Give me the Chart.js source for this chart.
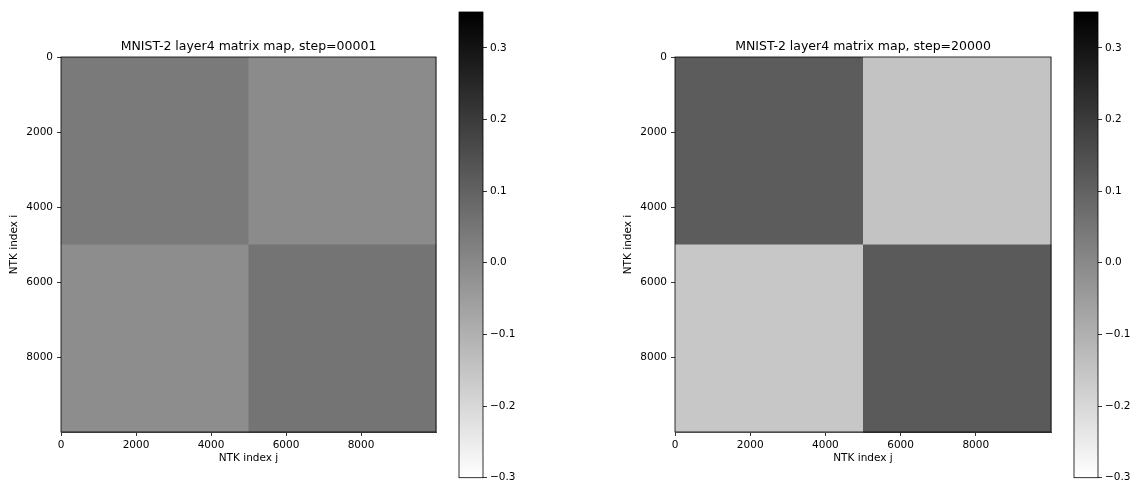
<!DOCTYPE html>
<html><head><meta charset="utf-8">
<script src="https://cdn.jsdelivr.net/npm/chart.js@4.4.0/dist/chart.umd.min.js"></script>
<style>
html,body{margin:0;padding:0;background:#fff;}
body{width:1133px;height:487px;position:relative;overflow:hidden;}
canvas{position:absolute;top:0;}
</style></head><body>
<canvas id="h1" width="497" height="487" style="left:0px;width:497px;height:487px"></canvas>
<canvas id="c1" width="110" height="487" style="left:440px;width:110px;height:487px"></canvas>
<canvas id="h2" width="498" height="487" style="left:614px;width:498px;height:487px"></canvas>
<canvas id="c2" width="78" height="487" style="left:1055px;width:78px;height:487px"></canvas>
<script>
// ---- data ----
const titles = ['MNIST-2 layer4 matrix map, step=00001', 'MNIST-2 layer4 matrix map, step=20000'];
const blockEdges = [0, 5000, 10000];          // NTK index boundaries of the two class blocks
const step00001 = [[0.040, -0.005], [-0.010, 0.055]]; // rows i (top,bottom), cols j (left,right)
const step20000 = [[0.115, -0.147], [-0.157, 0.120]];
const axisTicks = [0, 2000, 4000, 6000, 8000];
const cbTicks = [-0.3, -0.2, -0.1, 0.0, 0.1, 0.2, 0.3];
const vmin = -0.3, vmax = 0.35;
const xLabel = 'NTK index j', yLabel = 'NTK index i';

// ---- helpers ----
Chart.defaults.font.family = "'DejaVu Sans', sans-serif";
Chart.defaults.font.size = 10.5;
Chart.defaults.color = '#000';
function grayFor(v) {
  let t = (v - vmin) / (vmax - vmin);
  t = Math.max(0, Math.min(1, t));
  const g = Math.round(255 * (1 - t));
  return `rgb(${g},${g},${g})`;
}
function cellsFrom(vals) {
  const out = [];
  for (let r = 0; r < vals.length; r++)
    for (let c = 0; c < vals[r].length; c++)
      out.push({x0: blockEdges[c], x1: blockEdges[c + 1], y0: blockEdges[r], y1: blockEdges[r + 1],
                x: (blockEdges[c] + blockEdges[c + 1]) / 2, y: (blockEdges[r] + blockEdges[r + 1]) / 2, v: vals[r][c]});
  return out;
}
const heatPlugin = {
  id: 'heat',
  beforeDatasetsDraw(chart) {
    const {ctx, scales: {x, y}} = chart;
    ctx.save();
    chart.data.datasets[0].data.forEach(d => {
      const px0 = x.getPixelForValue(d.x0), px1 = x.getPixelForValue(d.x1);
      const py0 = y.getPixelForValue(d.y0), py1 = y.getPixelForValue(d.y1);
      ctx.fillStyle = grayFor(d.v);
      ctx.fillRect(Math.min(px0, px1), Math.min(py0, py1), Math.abs(px1 - px0) + 0.5, Math.abs(py1 - py0) + 0.5);
    });
    ctx.restore();
  },
  afterDraw(chart) {
    const a = chart.chartArea, ctx = chart.ctx;
    ctx.save();
    ctx.strokeStyle = '#000'; ctx.lineWidth = 0.8;
    ctx.strokeRect(a.left, a.top, a.right - a.left, a.bottom - a.top);
    ctx.restore();
  }
};
const gridOpts = {drawOnChartArea: false, drawTicks: true, tickLength: 4, color: '#000', lineWidth: 0.8};
function heatChart(id, title, vals) {
  return new Chart(document.getElementById(id), {
    type: 'scatter',
    data: {datasets: [{data: cellsFrom(vals), pointRadius: 0, pointHoverRadius: 0}]},
    options: {
      responsive: false, animation: false,
      layout: {padding: 0},
      plugins: {
        legend: {display: false}, tooltip: {enabled: false},
        title: {display: true, text: title, color: '#000', font: {size: 12.5, weight: 'normal'}, padding: {top: 39.5, bottom: 2.5}}
      },
      scales: {
        x: {type: 'linear', min: 0, max: 10000,
            afterBuildTicks: s => { s.ticks = axisTicks.map(v => ({value: v})); },
            afterFit: s => { s.height = 55; },
            ticks: {padding: 3, maxRotation: 0, autoSkip: false, callback: v => String(v)},
            grid: gridOpts, border: {display: true, color: '#000', width: 0.8},
            title: {display: true, text: xLabel, color: '#000', font: {size: 10.5}, padding: {top: 0, bottom: 22.5}}},
        y: {type: 'linear', min: 0, max: 10000, reverse: true,
            afterBuildTicks: s => { s.ticks = axisTicks.map(v => ({value: v})); },
            afterFit: s => { s.width = 61; },
            ticks: {padding: 4, autoSkip: false, callback: v => String(v)},
            grid: gridOpts, border: {display: true, color: '#000', width: 0.8},
            title: {display: true, text: yLabel, color: '#000', font: {size: 10.5}, padding: {top: 8, bottom: 0}}},
        yr: {type: 'linear', position: 'right', min: 0, max: 1,
             afterFit: s => { s.width = 61; },
             ticks: {display: false}, grid: {display: false}, border: {display: false}}
      }
    },
    plugins: [heatPlugin]
  });
}
const cbPlugin = {
  id: 'cb',
  beforeDatasetsDraw(chart) {
    const {ctx, chartArea: a, scales: {y}} = chart;
    const yb = y.getPixelForValue(vmin), yt = y.getPixelForValue(vmax);
    const g = ctx.createLinearGradient(0, yb, 0, yt);
    g.addColorStop(0, grayFor(vmin));
    g.addColorStop(1, grayFor(vmax));
    ctx.save();
    ctx.fillStyle = g;
    ctx.fillRect(a.left, yt, a.right - a.left, yb - yt);
    ctx.strokeStyle = '#000'; ctx.lineWidth = 0.8;
    ctx.strokeRect(a.left, a.top, a.right - a.left, a.bottom - a.top);
    ctx.restore();
  }
};
function colorbar(id, yWidth) {
  return new Chart(document.getElementById(id), {
    type: 'scatter',
    data: {datasets: [{data: [], pointRadius: 0}]},
    options: {
      responsive: false, animation: false,
      layout: {padding: {left: 19, right: 0, top: 12, bottom: 9}},
      plugins: {legend: {display: false}, tooltip: {enabled: false}, title: {display: false}},
      scales: {
        x: {display: false, min: 0, max: 1},
        y: {type: 'linear', position: 'right', min: vmin, max: vmax,
            afterBuildTicks: s => { s.ticks = cbTicks.map(v => ({value: v})); },
            afterFit: s => { s.width = yWidth; },
            ticks: {padding: 3, autoSkip: false, callback: v => (Math.abs(v) < 1e-9 ? '0.0' : v.toFixed(1).replace('-', '\u2212'))},
            grid: gridOpts, border: {display: false}}
      }
    },
    plugins: [cbPlugin]
  });
}
heatChart('h1', titles[0], step00001);
colorbar('c1', 67);
heatChart('h2', titles[1], step20000);
colorbar('c2', 35);
</script>
</body></html>
